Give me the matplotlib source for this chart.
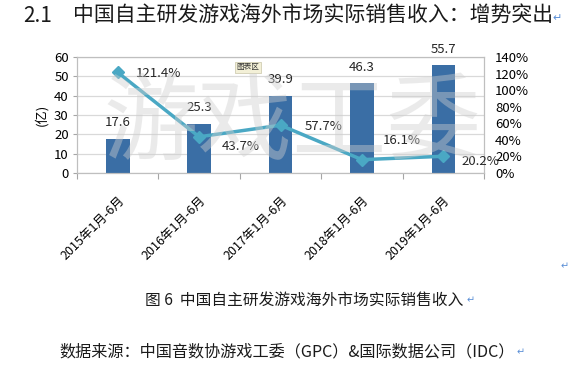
import matplotlib.pyplot as plt
from matplotlib.ticker import FuncFormatter
import numpy as np

plt.rcParams['font.family'] = ['Noto Sans CJK SC', 'DejaVu Sans']

periods = ['2015年1月-6月', '2016年1月-6月', '2017年1月-6月', '2018年1月-6月', '2019年1月-6月']
revenue = [17.6, 25.3, 39.9, 46.3, 55.7]   # 亿
growth = [121.4, 43.7, 57.7, 16.1, 20.2]   # %

bar_color = '#3a6ea5'
line_color = '#4aa8c4'
grid_color = '#d9d9d9'
arrow_color = '#5b8fd6'

fig = plt.figure(figsize=(5.8, 3.67), dpi=100)
ax = fig.add_axes([0.1328, 0.5286, 0.7017, 0.3161])
x = np.arange(len(periods))

ax.bar(x, revenue, width=0.29, color=bar_color, zorder=2)
ax.set_xlim(-0.5, len(periods) - 0.5)
ax.set_ylim(0, 60)
ax.set_yticks(range(0, 61, 10))
ax.grid(axis='y', color=grid_color, lw=0.9, zorder=0)
ax.set_axisbelow(True)

# tick marks between categories, labels under each bar
ax.set_xticks(np.arange(-0.5, len(periods), 1))
ax.set_xticklabels([])
ax.set_xticks(x, minor=True)
ax.set_xticklabels(periods, minor=True, rotation=45, ha='right', va='top',
                   rotation_mode='anchor', fontsize=9)
ax.tick_params(axis='x', which='major', length=4, color='#a6a6a6')
ax.tick_params(axis='x', which='minor', length=0, pad=15)
ax.tick_params(axis='y', length=3, color='#a6a6a6', labelsize=9.5, pad=3)
for s in ax.spines.values():
    s.set_color('#bfbfbf')
ax.set_ylabel('(亿)', fontsize=9.5, labelpad=4)

for i, v in enumerate(revenue):
    ax.annotate(f'{v}', (i, v), xytext=(0, 7), textcoords='offset points',
                ha='center', va='bottom', fontsize=9.5, color='#262626')

ax2 = ax.twinx()
ax2.plot(x, growth, color=line_color, lw=2.5, marker='D', ms=6, zorder=3)
ax2.set_ylim(0, 140)
ax2.set_yticks(range(0, 141, 20))
ax2.yaxis.set_major_formatter(FuncFormatter(lambda v, p: f'{v:.0f}%'))
ax2.tick_params(axis='y', length=0, labelsize=9.5, pad=8)
for s in ax2.spines.values():
    s.set_color('#bfbfbf')

offsets = [(29, -1), (30, -7), (31, -1), (29, 14), (27, -4)]
for i, g in enumerate(growth):
    ax2.annotate(f'{g}%', (i, g), xytext=offsets[i], textcoords='offset points',
                 ha='center', va='center', fontsize=9.5, color='#262626')

# Excel "chart area" hint
ax2.text(0.42, 0.91, '图表区', transform=ax2.transAxes, fontsize=5.5,
         ha='center', va='center', color='#333333',
         bbox=dict(boxstyle='square,pad=0.25', fc='#f3f0d7', ec='#c9c5a8', lw=0.5))

# watermark
fig.text(0.505, 0.66, '游戏工委', fontsize=68, color='#cfcfcf', alpha=0.42,
         ha='center', va='center', fontweight='light')

fig.text(0.040, 0.956, '2.1', fontsize=15, ha='left', va='center', color='#1a1a1a')
fig.text(0.126, 0.956, '中国自主研发游戏海外市场实际销售收入：增势突出', fontsize=15,
         ha='left', va='center', color='#1a1a1a')
fig.text(0.960, 0.952, '↵', fontsize=8, ha='center', va='center', color=arrow_color)

fig.text(0.524, 0.183, '图 6  中国自主研发游戏海外市场实际销售收入', fontsize=11.3,
         ha='center', va='center', color='#1a1a1a')
fig.text(0.812, 0.183, '↵', fontsize=7, ha='center', va='center', color=arrow_color)

fig.text(0.495, 0.041, '数据来源：中国音数协游戏工委（GPC）&国际数据公司（IDC）',
         fontsize=11.6, ha='center', va='center', color='#1a1a1a')
fig.text(0.897, 0.041, '↵', fontsize=7, ha='center', va='center', color=arrow_color)

fig.text(0.974, 0.275, '↵', fontsize=7, ha='center', va='center', color=arrow_color)

fig.savefig('out.png', dpi=100)
